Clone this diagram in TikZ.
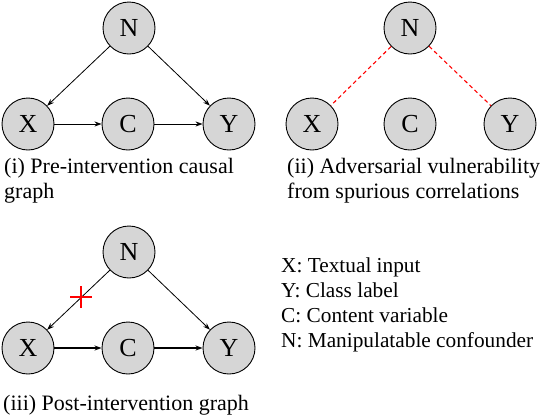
\documentclass[tikz,border=0pt]{standalone}
\usepackage{fontspec}
\setmainfont{Liberation Serif}
\newfontfamily\tnr{Liberation Serif}
\usetikzlibrary{arrows.meta}
\begin{document}
\begin{tikzpicture}[x=1pt,y=-1pt,
  var/.style={circle,draw=black,line width=0.9pt,fill=black!16,minimum size=52pt,inner sep=0pt,font=\tnr\fontsize{26}{26}\selectfont},
  edge/.style={-{Stealth[length=7pt,width=5pt]},line width=0.8pt},
  thickedge/.style={-{Stealth[length=7pt,width=5pt]},line width=1.3pt},
  spur/.style={red,line width=1.1pt,dash pattern=on 4pt off 3pt},
  captxt/.style={anchor=base west,inner sep=0pt,font=\tnr\fontsize{22}{25}\selectfont},
  legtxt/.style={anchor=base west,inner sep=0pt,font=\tnr\fontsize{21.3}{25}\selectfont}]
\useasboundingbox (0,0) rectangle (540,416);
% (i)
\node[var] (n1) at (129,28) {N};
\node[var] (x1) at (28,124) {X};
\node[var] (c1) at (128,124) {C};
\node[var] (y1) at (229,124) {Y};
\draw[edge] (n1) -- (x1);
\draw[edge] (n1) -- (y1);
\draw[edge] (x1) -- (c1);
\draw[edge] (c1) -- (y1);
\node[captxt] (t1a) at (4,173) {(i) Pre-intervention causal};
\node[captxt] (t1b) at (4,198) {graph};
% (ii)
\node[var] (n2) at (410,28) {N};
\node[var] (x2) at (312,124) {X};
\node[var] (c2) at (410,124) {C};
\node[var] (y2) at (510,124) {Y};
\draw[spur] (n2) -- (x2);
\draw[spur] (n2) -- (y2);
\node[captxt] (t2a) at (287,173) {(ii) Adversarial vulnerability};
\node[captxt] (t2b) at (287,198) {from spurious correlations};
% (iii)
\node[var] (n3) at (129,252) {N};
\node[var] (x3) at (28,348) {X};
\node[var] (c3) at (128,348) {C};
\node[var] (y3) at (229,348) {Y};
\draw[edge] (n3) -- (x3);
\draw[edge] (n3) -- (y3);
\draw[thickedge] (x3) -- (c3);
\draw[thickedge] (c3) -- (y3);
\coordinate (cr) at (81,297);
\draw[red,line width=1.2pt] ([xshift=-11pt]cr) -- ([xshift=11pt]cr);
\draw[red,line width=1.2pt] ([yshift=-11pt]cr) -- ([yshift=11pt]cr);
\node[captxt] (t3) at (3,410) {(iii) Post-intervention graph};
% legend
\node[legtxt] (l1) at (281,272) {X: Textual input};
\node[legtxt] (l2) at (281,297) {Y: Class label};
\node[legtxt] (l3) at (281,322) {C: Content variable};
\node[legtxt] (l4) at (281,347) {N: Manipulatable confounder};
\end{tikzpicture}
\end{document}
